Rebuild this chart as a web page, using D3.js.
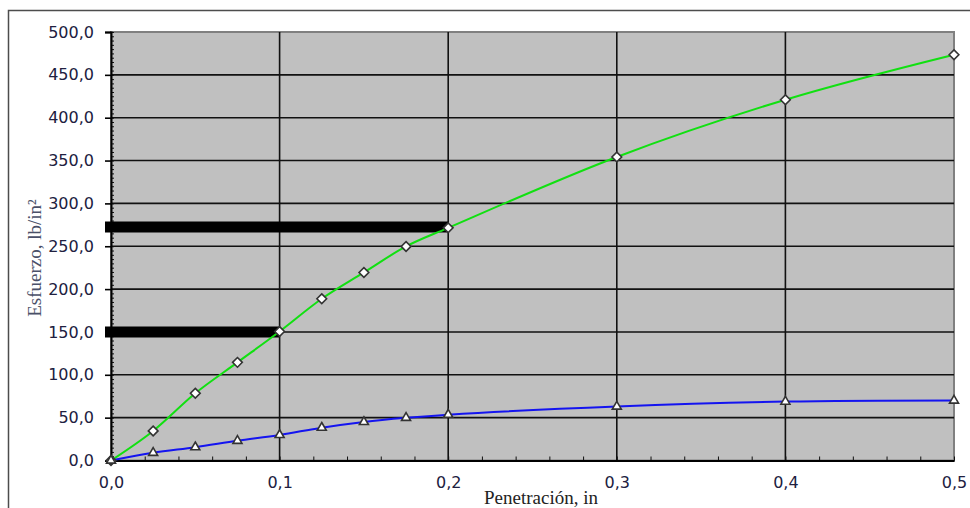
<!DOCTYPE html>
<html>
<head>
<meta charset="utf-8">
<script src="https://cdn.jsdelivr.net/npm/d3@7"></script>
<style>
  body { margin: 0; background: #fff; }
  svg { display: block; }
</style>
</head>
<body>
<div id="chart"></div>
<script>
const penetration = [0, 0.025, 0.05, 0.075, 0.1, 0.125, 0.15, 0.175, 0.2, 0.3, 0.4, 0.5];
const stressUpper = [0, 34.5, 78.5, 114.5, 150.5, 188.7, 219.4, 249.8, 271.5, 354.2, 421, 473.5];
const stressLower = [0, 9, 15.5, 23, 29.8, 38.3, 45, 49.8, 53.5, 63, 68.7, 70];
const refX = [0.1, 0.2];
const refY = [150, 272.5];
const xTicks = [0, 0.1, 0.2, 0.3, 0.4, 0.5];
const yTicks = [0, 50, 100, 150, 200, 250, 300, 350, 400, 450, 500];

const width = 970;
const height = 508;
const plotLeft = 111, plotRight = 954, plotTop = 32, plotBottom = 460.5;

const svg = d3.select('#chart')
  .append('svg')
    .attr('width', width)
    .attr('height', height);

// Outer chart frame (runs off the picture right and bottom)
svg.append('rect')
    .attr('x', 8.5).attr('y', 10.5)
    .attr('width', 1000).attr('height', 600)
    .attr('fill', '#fff')
    .attr('stroke', '#4d4d4d')
    .attr('stroke-width', 1.5);

const x = d3.scaleLinear().domain([0, 0.5]).range([plotLeft, plotRight]);
const y = d3.scaleLinear().domain([0, 500]).range([plotBottom, plotTop]);

// Plot area
svg.append('rect')
    .attr('x', plotLeft).attr('y', plotTop)
    .attr('width', plotRight - plotLeft).attr('height', plotBottom - plotTop)
    .attr('fill', '#c0c0c0')
    .attr('stroke', '#808080')
    .attr('stroke-width', 2);

// Grid
svg.append('g')
  .selectAll('line')
  .data(yTicks.filter(d => d > 0 && d < 500))
  .join('line')
    .attr('x1', plotLeft).attr('x2', plotRight)
    .attr('y1', d => y(d)).attr('y2', d => y(d))
    .attr('stroke', '#111').attr('stroke-width', 1.6);

svg.append('g')
  .selectAll('line')
  .data(xTicks.filter(d => d > 0 && d < 0.5))
  .join('line')
    .attr('x1', d => x(d)).attr('x2', d => x(d))
    .attr('y1', plotTop).attr('y2', plotBottom)
    .attr('stroke', '#111').attr('stroke-width', 1.6);

// Minor ticks, inside
svg.append('g')
  .call(d3.axisRight(y).ticks(100).tickSize(3).tickFormat(''))
  .attr('transform', `translate(${plotLeft},0)`)
  .call(g => g.select('.domain').remove())
  .selectAll('line').attr('stroke', '#111');

svg.append('g')
  .call(d3.axisTop(x).ticks(25).tickSize(4).tickFormat(''))
  .attr('transform', `translate(0,${plotBottom})`)
  .call(g => g.select('.domain').remove())
  .selectAll('line').attr('stroke', '#111');

// Left axis
svg.append('g')
    .attr('transform', `translate(${plotLeft},0)`)
    .call(d3.axisLeft(y).tickValues(yTicks).tickSize(6).tickPadding(11)
      .tickFormat(d => d3.format('.1f')(d).replace('.', ',')))
    .call(g => g.select('.domain').attr('stroke', '#000').attr('stroke-width', 2))
    .call(g => g.selectAll('line').attr('stroke', '#000').attr('stroke-width', 1.6))
    .call(g => g.selectAll('text')
      .attr('font-family', 'DejaVu Sans').attr('font-size', 16).attr('fill', '#202040'));

// Bottom axis
svg.append('g')
    .attr('transform', `translate(0,${plotBottom})`)
    .call(d3.axisBottom(x).tickValues(xTicks).tickSize(0).tickPadding(16)
      .tickFormat(d => d3.format('.1f')(d).replace('.', ',')))
    .call(g => g.select('.domain').attr('stroke', '#000').attr('stroke-width', 2))
    .call(g => g.selectAll('text')
      .attr('font-family', 'DejaVu Sans').attr('font-size', 16).attr('fill', '#202040'));

// Reference bars
svg.append('g')
  .selectAll('line')
  .data(refX.map((d, i) => [d, refY[i]]))
  .join('line')
    .attr('x1', plotLeft - 6).attr('x2', d => x(d[0]))
    .attr('y1', d => y(d[1])).attr('y2', d => y(d[1]))
    .attr('stroke', '#000').attr('stroke-width', 11);

// Curves
const line = d3.line()
  .x(d => x(d[0]))
  .y(d => y(d[1]))
  .curve(d3.curveCatmullRom.alpha(0.5));

const upper = penetration.map((d, i) => [d, stressUpper[i]]);
const lower = penetration.map((d, i) => [d, stressLower[i]]);

svg.append('path')
    .datum(upper)
    .attr('d', line)
    .attr('fill', 'none')
    .attr('stroke', '#11e011')
    .attr('stroke-width', 2);

svg.append('path')
    .datum(lower)
    .attr('d', line)
    .attr('fill', 'none')
    .attr('stroke', '#1414f0')
    .attr('stroke-width', 2);

// Markers
svg.append('g')
  .selectAll('path')
  .data(upper)
  .join('path')
    .attr('transform', d => `translate(${x(d[0])},${y(d[1])})`)
    .attr('d', d3.symbol(d3.symbolDiamond2, 60))
    .attr('fill', '#fff')
    .attr('stroke', '#333')
    .attr('stroke-width', 1.6);

svg.append('g')
  .selectAll('path')
  .data(lower)
  .join('path')
    .attr('transform', d => `translate(${x(d[0])},${y(d[1])})`)
    .attr('d', d3.symbol(d3.symbolTriangle2, 58))
    .attr('fill', '#fff')
    .attr('stroke', '#333')
    .attr('stroke-width', 1.6);

// Axis titles
svg.append('text')
    .attr('x', 541).attr('y', 504)
    .attr('text-anchor', 'middle')
    .attr('font-family', 'Liberation Serif')
    .attr('font-size', 19)
    .attr('fill', '#222')
    .text('Penetración, in');

svg.append('text')
    .attr('transform', 'translate(41,258) rotate(-90)')
    .attr('text-anchor', 'middle')
    .attr('font-family', 'Liberation Serif')
    .attr('font-size', 19)
    .attr('fill', '#4a5068')
    .text('Esfuerzo, lb/in²');
</script>
</body>
</html>
